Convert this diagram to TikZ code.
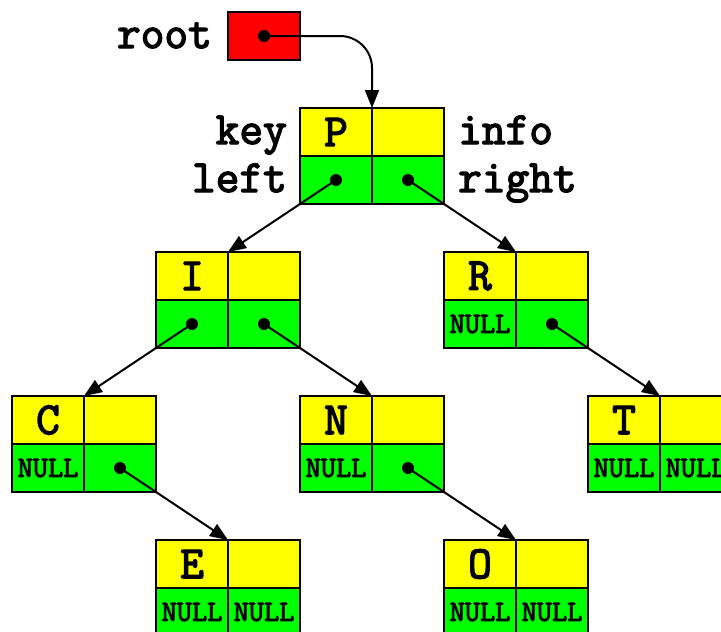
\documentclass[tikz,border=0pt]{standalone}
\usepackage{fontspec}
\setmonofont[AutoFakeBold=3]{Latin Modern Mono}
\usetikzlibrary{arrows.meta}
\definecolor{keyyellow}{RGB}{255,255,0}
\definecolor{linkgreen}{RGB}{0,255,0}
\definecolor{rootred}{RGB}{255,0,0}
\tikzset{
  cell/.style={draw, line width=2pt, minimum width=72pt, minimum height=48pt,
    inner sep=0pt, outer sep=0pt, font=\ttfamily\bfseries\fontsize{46}{46}\selectfont},
  keycell/.style={cell, fill=keyyellow},
  linkcell/.style={cell, fill=linkgreen},
  nullcell/.style={linkcell, font=\ttfamily\bfseries\fontsize{29.5}{29.5}\selectfont},
  label/.style={font=\ttfamily\bfseries\fontsize{46}{46}\selectfont, inner sep=0pt},
  dot/.style={circle, fill=black, inner sep=0pt, minimum size=12pt},
  ptr/.style={line width=2pt, -{Triangle[length=18pt,width=14pt]}},
}
% \treenode{name}{x of centre}{y of centre}{key}
\newcommand{\treenode}[4]{%
  \node[keycell] (#1-key) at (#2-36,#3-24) {#4};
  \node[keycell] (#1-info) at (#2+36,#3-24) {};
}
\newcommand{\linkcell}[3]{\node[linkcell] (#1) at (#2,#3) {}; \node[dot] at (#1.center) {};}
\newcommand{\nullcell}[3]{\node[nullcell] (#1) at (#2,#3) {NULL};}
\begin{document}
\begin{tikzpicture}[x=1pt,y=-1pt]
\useasboundingbox (0,0) rectangle (721,632);
\clip (0,0) rectangle (721,632);

% root pointer
\node[cell, fill=rootred] (root) at (264,36) {};
\node[dot] (rootdot) at (root.center) {};
\node[label, anchor=base east] (rootlbl) at (212,48) {root};

% nodes of the tree
\treenode{P}{372}{156}{P}
\linkcell{P-left}{336}{180} \linkcell{P-right}{408}{180}
\treenode{I}{228}{300}{I}
\linkcell{I-left}{192}{324} \linkcell{I-right}{264}{324}
\treenode{R}{516}{300}{R}
\nullcell{R-left}{480}{324} \linkcell{R-right}{552}{324}
\treenode{C}{84}{444}{C}
\nullcell{C-left}{48}{468} \linkcell{C-right}{120}{468}
\treenode{N}{372}{444}{N}
\nullcell{N-left}{336}{468} \linkcell{N-right}{408}{468}
\treenode{T}{660}{444}{T}
\nullcell{T-left}{624}{468} \nullcell{T-right}{696}{468}
\treenode{E}{228}{588}{E}
\nullcell{E-left}{192}{612} \nullcell{E-right}{264}{612}
\treenode{O}{516}{588}{O}
\nullcell{O-left}{480}{612} \nullcell{O-right}{552}{612}

% field names
\node[label, anchor=base east] (keylbl) at (287,144) {key};
\node[label, anchor=base east] (leftlbl) at (287,192) {left};
\node[label, anchor=base west] (infolbl) at (458,144) {info};
\node[label, anchor=base west] (rightlbl) at (458,192) {right};

% pointers
\draw[ptr, rounded corners=32pt] (root.center) -| (P-key.north east);
\draw[ptr] (P-left.center) -- (I-key.north east);
\draw[ptr] (P-right.center) -- (R-key.north east);
\draw[ptr] (I-left.center) -- (C-key.north east);
\draw[ptr] (I-right.center) -- (N-key.north east);
\draw[ptr] (R-right.center) -- (T-key.north east);
\draw[ptr] (C-right.center) -- (E-key.north east);
\draw[ptr] (N-right.center) -- (O-key.north east);
\end{tikzpicture}
\end{document}
